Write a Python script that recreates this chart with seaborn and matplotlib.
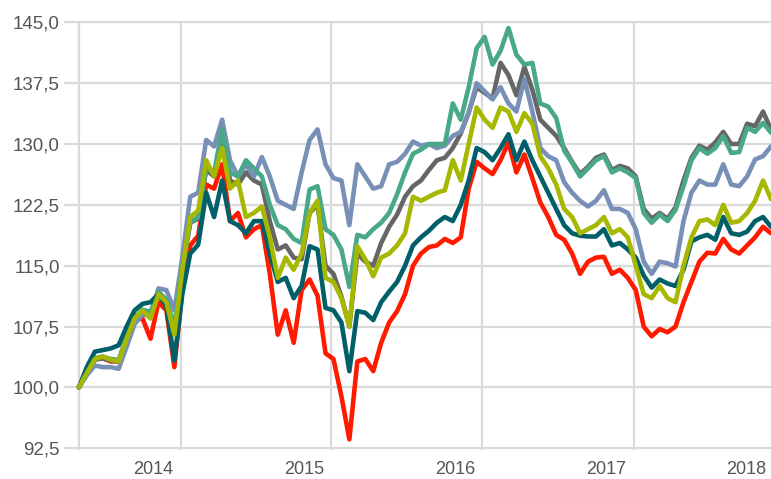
import matplotlib
matplotlib.use("Agg")
import matplotlib.pyplot as plt
import matplotlib.ticker as mticker
import numpy as np
import pandas as pd
import seaborn as sns

# data (~every 8 px on the x axis)
start_date = "2013-04-30"
end_date = "2017-11-29"

red = [100.0, 101.8, 103.5, 103.6, 103.2, 103.2, 106.0, 108.3, 108.5, 106.0,
       110.5, 109.5, 102.5, 112.0, 117.5, 118.7, 125.0, 124.5, 127.5, 120.5,
       121.5, 118.5, 119.5, 120.0, 114.0, 106.5, 109.5, 105.5, 112.0, 113.3,
       111.3, 104.2, 103.5, 98.9, 93.6, 103.2, 103.5, 102.0, 105.5, 108.0,
       109.4, 111.5, 115.0, 116.5, 117.3, 117.5, 118.3, 117.8, 118.5, 124.5,
       127.8, 127.0, 126.3, 128.0, 130.2, 126.5, 128.7, 125.8, 122.8, 121.0,
       118.8, 118.2, 116.5, 114.0, 115.5, 116.0, 116.1, 114.0, 114.5, 113.5,
       112.0, 107.5, 106.3, 107.2, 106.8, 107.5, 110.5, 113.0, 115.5, 116.6,
       116.5, 118.3, 117.0, 116.5, 117.5, 118.5, 119.8, 119.0]

gray = [100.0, 101.7, 103.4, 103.6, 103.3, 103.2, 105.8, 108.3, 109.4, 109.0,
        111.5, 110.5, 107.0, 114.5, 120.3, 120.8, 126.8, 126.0, 131.0, 125.5,
        125.0, 126.5, 125.5, 125.0, 120.5, 117.0, 117.5, 116.0, 115.8, 121.5,
        122.5, 115.0, 114.0, 111.2, 107.5, 116.5, 115.5, 115.0, 117.8, 119.8,
        121.3, 123.5, 124.8, 125.5, 126.8, 128.0, 128.3, 129.5, 131.3, 133.9,
        137.0, 136.3, 135.6, 140.0, 138.5, 136.0, 139.5, 136.7, 133.0, 132.0,
        131.0, 129.5, 127.8, 126.3, 127.2, 128.3, 128.7, 126.8, 127.3, 127.0,
        126.0, 122.0, 120.8, 121.5, 120.8, 122.2, 125.5, 128.3, 129.8, 129.3,
        130.2, 131.5, 130.0, 130.0, 132.5, 132.2, 134.0, 131.8]

blue = [100.0, 101.5, 102.7, 102.5, 102.5, 102.3, 105.0, 107.8, 109.0, 108.8,
        112.2, 112.0, 109.5, 116.0, 123.5, 124.0, 130.5, 129.7, 133.0, 128.0,
        126.0, 127.5, 126.0, 128.4, 126.0, 123.0, 122.5, 122.0, 126.5, 130.5,
        131.8, 127.5, 125.8, 125.5, 120.0, 127.5, 126.0, 124.5, 124.8, 127.5,
        127.8, 128.8, 130.3, 129.8, 130.0, 129.5, 129.8, 131.0, 131.5, 133.8,
        137.5, 136.5, 135.5, 137.0, 135.0, 134.0, 138.0, 134.0, 129.5, 128.5,
        128.0, 125.3, 124.0, 123.0, 122.3, 123.0, 124.3, 122.0, 122.0, 121.5,
        119.5, 115.5, 114.0, 115.5, 115.3, 114.9, 120.5, 124.0, 125.5, 125.0,
        125.0, 127.5, 125.0, 124.8, 126.0, 128.1, 128.5, 129.7]

green = [100.0, 101.8, 103.6, 103.8, 103.5, 103.4, 106.2, 108.6, 109.6, 109.3,
         111.8, 110.8, 107.5, 114.8, 120.4, 121.0, 127.0, 126.5, 131.8, 126.5,
         126.0, 128.0, 127.0, 126.0, 122.5, 120.0, 119.5, 118.3, 117.8, 124.4,
         124.8, 119.5, 118.8, 117.0, 112.4, 118.8, 118.5, 119.5, 120.3, 121.5,
         123.8, 126.5, 128.8, 129.3, 130.0, 130.0, 130.0, 135.0, 133.0, 137.0,
         141.8, 143.2, 139.8, 141.5, 144.3, 141.0, 139.8, 140.0, 135.0, 134.6,
         133.2, 129.2, 127.7, 126.0, 127.0, 128.0, 128.5, 126.5, 127.0, 126.5,
         125.8, 121.5, 120.3, 121.3, 120.5, 121.9, 124.8, 128.0, 129.5, 128.8,
         129.5, 131.0, 128.9, 129.0, 132.0, 131.5, 132.6, 131.4]

teal = [100.0, 102.5, 104.4, 104.6, 104.8, 105.2, 107.5, 109.5, 110.3, 110.5,
        111.5, 110.0, 103.3, 111.5, 116.5, 117.6, 124.0, 121.0, 125.5, 120.5,
        120.0, 119.0, 120.5, 120.5, 116.5, 113.0, 113.5, 111.0, 112.5, 117.4,
        117.0, 109.8, 109.5, 108.0, 102.0, 109.4, 109.2, 108.3, 110.5, 111.8,
        113.0, 115.0, 117.5, 118.5, 119.3, 120.3, 121.0, 120.5, 122.5, 125.5,
        129.5, 129.0, 128.0, 129.5, 131.2, 128.0, 130.3, 128.0, 126.0, 124.0,
        122.0, 120.0, 119.0, 118.7, 118.6, 118.6, 119.5, 117.5, 117.8, 117.0,
        116.0, 113.8, 112.3, 113.3, 112.8, 112.5, 114.5, 118.0, 118.5, 118.8,
        118.2, 121.0, 119.0, 118.8, 119.2, 120.5, 121.0, 119.8]

olive = [100.0, 101.8, 103.5, 103.8, 103.4, 103.2, 106.0, 108.5, 109.5, 108.5,
         111.5, 110.5, 106.5, 114.5, 121.0, 121.8, 128.0, 126.0, 129.5, 124.5,
         125.5, 121.0, 121.5, 122.3, 118.5, 113.5, 116.0, 114.5, 116.5, 121.5,
         123.0, 113.5, 113.0, 111.0, 107.5, 117.4, 115.8, 113.7, 116.0, 116.5,
         117.5, 119.0, 123.5, 123.0, 123.5, 124.0, 124.3, 128.0, 125.5, 130.0,
         134.5, 133.0, 132.0, 134.5, 134.0, 131.5, 133.8, 132.5, 128.5, 127.0,
         125.0, 122.0, 121.0, 119.0, 119.5, 120.0, 121.0, 119.0, 119.5, 118.5,
         115.0, 111.5, 111.0, 112.5, 111.0, 110.5, 115.0, 118.5, 120.5, 120.7,
         120.0, 122.5, 120.3, 120.5, 121.5, 123.0, 125.5, 123.2]

series_names = ["red", "gray", "blue", "green", "teal", "olive"]
series_values = [red, gray, blue, green, teal, olive]
series_colors = ["#ff1a00", "#666666", "#7890b8", "#48a888", "#005f68", "#a6b800"]

y_ticks = [92.5, 100.0, 107.5, 115.0, 122.5, 130.0, 137.5, 145.0]
year_labels = ["2014", "2015", "2016", "2017", "2018"]

dates = pd.date_range(start_date, end_date, periods=len(red))
df = pd.concat(
    [pd.DataFrame({"date": dates, "value": v, "series": n})
     for n, v in zip(series_names, series_values)],
    ignore_index=True,
)

sns.set_theme(style="white")
plt.rcParams["font.family"] = ["Liberation Sans", "DejaVu Sans"]

fig = plt.figure(figsize=(7.71, 4.79), dpi=100)
ax = fig.add_axes([0.083, 0.0608, 0.917, 0.896])

sns.lineplot(
    data=df, x="date", y="value", hue="series",
    hue_order=series_names,
    palette=dict(zip(series_names, series_colors)),
    estimator=None, linewidth=3.3, legend=False, ax=ax,
)

# axis limits: 15 px of room left of the first point
t0 = pd.Timestamp(start_date)
t1 = pd.Timestamp(end_date)
ax.set_xlim(t0 - pd.Timedelta(days=36), t1)
ax.set_ylim(92.3, 145.2)

grid_col = "#dadada"
text_col = "#555555"

ax.set_yticks(y_ticks)
ax.yaxis.set_major_formatter(mticker.FuncFormatter(lambda v, p: f"{v:.1f}".replace(".", ",")))
ax.grid(axis="y", color=grid_col, linewidth=1.6)

# vertical lines at the series start and at each new year
grid_dates = [t0] + [pd.Timestamp(f"{y}-01-01") for y in range(2014, 2018)]
ax.set_xticks(grid_dates, minor=True)
ax.grid(axis="x", which="minor", color=grid_col, linewidth=1.6)

# year labels sit just left of their gridline; the last one is kept inside
label_pos = [pd.Timestamp(f"{y}-01-01") - pd.Timedelta(days=66) for y in range(2014, 2018)]
label_pos.append(t1 - pd.Timedelta(days=60))
ax.set_xticks(label_pos, labels=year_labels)

ax.tick_params(axis="x", which="major", length=0, pad=8, labelsize=13, labelcolor=text_col)
ax.tick_params(axis="x", which="minor", length=9, width=1.3, color=grid_col, direction="out")
ax.tick_params(axis="y", length=0, pad=3, labelsize=13.5, labelcolor=text_col)

ax.set_xlabel("")
ax.set_ylabel("")
for s in ax.spines.values():
    s.set_visible(False)

fig.savefig("out.png", dpi=100, facecolor="white")
